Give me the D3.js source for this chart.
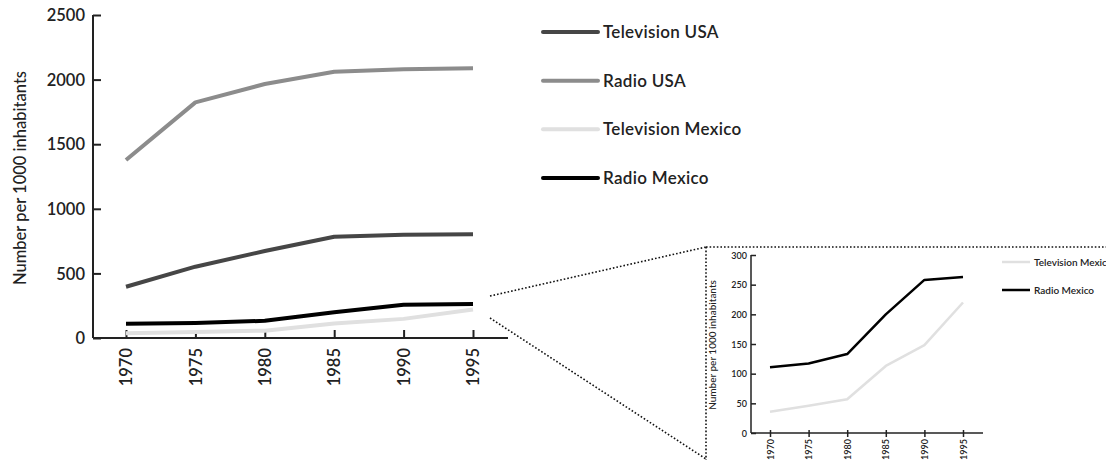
<!DOCTYPE html>
<html><head><meta charset="utf-8">
<script src="https://cdn.jsdelivr.net/npm/d3@7"></script>
<style>
html,body{margin:0;padding:0;background:#fff;}
svg{display:block;font-family:Lato,"Open Sans",sans-serif;}
</style></head>
<body><svg id="c" width="1106" height="460"></svg>
<script>
const years = [1970, 1975, 1980, 1985, 1990, 1995];
const tvUSA = [397, 552, 673, 784, 800, 803];
const radioUSA = [1378, 1824, 1966, 2061, 2080, 2087];
const tvMexico = [36, 46, 57, 113, 148, 220];
const radioMexico = [111, 117, 133, 200, 258, 263];
const mainYTicks = [0, 500, 1000, 1500, 2000, 2500];
const insetYTicks = [0, 50, 100, 150, 200, 250, 300];
const seriesNames = ["Television USA", "Radio USA", "Television Mexico", "Radio Mexico"];
const seriesColors = ["#464646", "#8c8c8c", "#e0e0e0", "#000000"];
const yLabel = "Number per 1000 inhabitants";

const series = [tvUSA, radioUSA, tvMexico, radioMexico].map((v, i) => ({name: seriesNames[i], color: seriesColors[i], values: v}));

const svg = d3.select("#c");

// ---------- main chart ----------
const x = d3.scaleLinear().domain([1970, 1995]).range([126, 473]);
const y = d3.scaleLinear().domain([0, 2500]).range([338, 15]);
const g = svg.append("g");

const yAx = g.append("g").attr("transform", "translate(93,0)")
  .call(d3.axisRight(y).tickValues(mainYTicks).tickSize(8).tickFormat(d3.format("d")));
yAx.select(".domain").attr("d", "M0," + y(2500) + "V" + y(0)).attr("stroke", "#222").attr("stroke-width", 2);
yAx.selectAll(".tick line").attr("stroke", "#222").attr("stroke-width", 2);
yAx.selectAll(".tick text").attr("x", -8).attr("text-anchor", "end").attr("dy", "0.35em")
  .attr("font-size", 16.5).attr("font-weight", 600).attr("fill", "#222").attr("font-family", "Lato");

const xAx = g.append("g").attr("transform", "translate(0,338)")
  .call(d3.axisTop(x).tickValues(years).tickSize(8).tickFormat(d3.format("d")));
xAx.select(".domain").attr("d", "M93,0H508").attr("stroke", "#222").attr("stroke-width", 2);
xAx.selectAll(".tick line").attr("stroke", "#222").attr("stroke-width", 2);
xAx.selectAll(".tick text").attr("transform", "rotate(-90)").attr("x", -10).attr("y", 0)
  .attr("dy", "0.35em").attr("text-anchor", "end")
  .attr("font-size", 16.5).attr("font-weight", 600).attr("fill", "#222").attr("font-family", "Lato");

g.append("text").attr("transform", "translate(20,178) rotate(-90)").attr("text-anchor", "middle")
  .attr("dy", "0.35em").attr("font-size", 16.5).attr("font-weight", 500).attr("fill", "#222").text(yLabel);

const line = d3.line().x((d, i) => x(years[i])).y(d => y(d));
[1, 0, 2, 3].forEach(i => {
  g.append("path").datum(series[i].values).attr("d", line).attr("fill", "none")
    .attr("stroke", series[i].color).attr("stroke-width", 4).attr("stroke-linejoin", "round");
});

const legY = d3.scalePoint().domain(seriesNames).range([32, 178]);
series.forEach(s => {
  const ly = legY(s.name);
  g.append("line").attr("x1", 543).attr("x2", 598).attr("y1", ly).attr("y2", ly)
    .attr("stroke", s.color).attr("stroke-width", 4).attr("stroke-linecap", "round");
  g.append("text").attr("x", 603).attr("y", ly).attr("dy", "0.35em").attr("font-size", 17)
    .attr("letter-spacing", 0.3).attr("font-weight", 600).attr("fill", "#222").text(s.name);
});

// ---------- connector dotted lines ----------
const dot = {stroke: "#111", "stroke-width": 1.6, "stroke-dasharray": "1.6,2"};
function dl(x1, y1, x2, y2) {
  const l = svg.append("line").attr("x1", x1).attr("y1", y1).attr("x2", x2).attr("y2", y2);
  Object.entries(dot).forEach(([k, v]) => l.attr(k, v));
}
dl(490, 296, 706, 247);
dl(490, 318, 706, 459);
dl(706, 247, 1106, 247);
dl(706, 247, 706, 460);

// ---------- inset ----------
const xi = d3.scaleLinear().domain([1970, 1995]).range([770, 963]);
const yi = d3.scaleLinear().domain([0, 300]).range([433, 255]);
const gi = svg.append("g");

const yAi = gi.append("g").attr("transform", "translate(751,0)")
  .call(d3.axisRight(yi).tickValues(insetYTicks).tickSize(5));
yAi.select(".domain").attr("d", "M0," + yi(300) + "V" + yi(0)).attr("stroke", "#222").attr("stroke-width", 1.5);
yAi.selectAll(".tick line").attr("stroke", "#222").attr("stroke-width", 1.5);
yAi.selectAll(".tick text").attr("x", -4).attr("text-anchor", "end").attr("dy", "0.35em")
  .attr("font-size", 9).attr("font-weight", 600).attr("fill", "#222").attr("font-family", "Lato");

const xAi = gi.append("g").attr("transform", "translate(0,433)")
  .call(d3.axisBottom(xi).tickValues(years).tickSize(4).tickFormat(d3.format("d")));
xAi.select(".domain").attr("d", "M751,0H983").attr("stroke", "#222").attr("stroke-width", 1.5);
xAi.selectAll(".tick line").attr("y1", -3).attr("stroke", "#222").attr("stroke-width", 1.5);
xAi.selectAll(".tick text").attr("transform", "rotate(-90)").attr("x", -6).attr("y", 0)
  .attr("dy", "0.35em").attr("text-anchor", "end")
  .attr("font-size", 9).attr("font-weight", 600).attr("fill", "#222").attr("font-family", "Lato");

gi.append("text").attr("transform", "translate(712,345) rotate(-90)").attr("text-anchor", "middle")
  .attr("dy", "0.35em").attr("font-size", 10).attr("font-weight", 500).attr("fill", "#222").text(yLabel);

const linei = d3.line().x((d, i) => xi(years[i])).y(d => yi(d));
[2, 3].forEach(i => {
  gi.append("path").datum(series[i].values).attr("d", linei).attr("fill", "none")
    .attr("stroke", series[i].color).attr("stroke-width", 2.5).attr("stroke-linejoin", "round");
});

const legYi = d3.scalePoint().domain([seriesNames[2], seriesNames[3]]).range([262, 290]);
[2, 3].forEach(i => {
  const ly = legYi(seriesNames[i]);
  gi.append("line").attr("x1", 1002).attr("x2", 1030).attr("y1", ly).attr("y2", ly)
    .attr("stroke", seriesColors[i]).attr("stroke-width", 2.5);
  gi.append("text").attr("x", 1034).attr("y", ly).attr("dy", "0.35em").attr("font-size", 10)
    .attr("font-weight", 600).attr("fill", "#222").text(seriesNames[i]);
});
</script></body></html>
